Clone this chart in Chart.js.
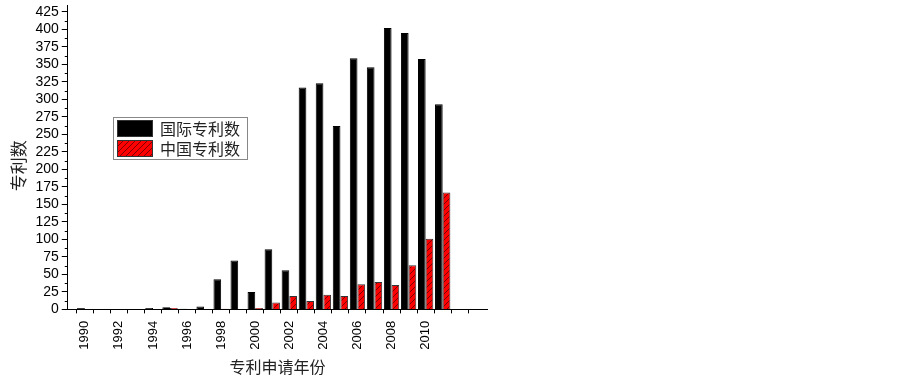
<!DOCTYPE html>
<html>
<head>
<meta charset="utf-8">
<script src="https://cdn.jsdelivr.net/npm/chart.js@4/dist/chart.umd.min.js"></script>
<style>
  html, body { margin: 0; padding: 0; background: #fff; }
  #wrap { width: 903px; height: 380px; }
</style>
</head>
<body>
<div id="wrap"><canvas id="c" width="903" height="380"></canvas></div>
<script>
// ---- data ----
const years = [1990,1991,1992,1993,1994,1995,1996,1997,1998,1999,2000,2001,2002,2003,2004,2005,2006,2007,2008,2009,2010,2011];
const intlPatents = [2,0,0,0,2,3,1,4,43,70,25,86,56,317,323,262,359,346,402,395,358,293];
const chinaPatents = [0,0,0,0,0,2,0,0,1,0,2,10,19,12,21,19,36,39,35,63,101,167];
const seriesLabels = ['国际专利数', '中国专利数'];
const xTitle = '专利申请年份';
const yTitle = '专利数';
const yTickValues = [0,25,50,75,100,125,150,175,200,225,250,275,300,325,350,375,400,425];
const yTickStep = 25;

const CJK = '"Noto Sans CJK SC", "Noto Sans", sans-serif';
const NUM = '"Liberation Sans", Arial, sans-serif';

function hatch() {
  const p = document.createElement('canvas');
  p.width = 6; p.height = 6;
  const g = p.getContext('2d');
  g.fillStyle = '#ff0000';
  g.fillRect(0, 0, 6, 6);
  g.strokeStyle = '#5a0000';
  g.lineWidth = 0.8;
  g.beginPath();
  g.moveTo(0, 6); g.lineTo(6, 0);
  g.moveTo(-1, 1); g.lineTo(1, -1);
  g.moveTo(5, 7); g.lineTo(7, 5);
  g.stroke();
  return document.getElementById('c').getContext('2d').createPattern(p, 'repeat');
}
const redHatch = hatch();

const minorTicks = {
  id: 'minorTicks',
  afterDraw(chart) {
    const ctx = chart.ctx, y = chart.scales.y, x0 = chart.chartArea.left;
    ctx.save();
    ctx.strokeStyle = '#000';
    ctx.lineWidth = 1;
    ctx.beginPath();
    for (let v = yTickStep / 2; v < y.max; v += yTickStep) {
      const py = Math.round(y.getPixelForValue(v)) + 0.5;
      ctx.moveTo(x0 - 3, py); ctx.lineTo(x0, py);
    }
    ctx.stroke();
    ctx.restore();
  }
};

const boxLegend = {
  id: 'boxLegend',
  afterDraw(chart) {
    const ctx = chart.ctx;
    const bx = 113.5, by = 117.5, bw = 134, bh = 42;
    ctx.save();
    ctx.fillStyle = '#fff';
    ctx.fillRect(bx, by, bw, bh);
    ctx.strokeStyle = '#888';
    ctx.lineWidth = 1;
    ctx.strokeRect(bx, by, bw, bh);
    chart.data.datasets.forEach((ds, i) => {
      const sy = 120 + i * 20;
      ctx.fillStyle = ds.backgroundColor;
      ctx.fillRect(117, sy, 36, 17);
      ctx.strokeStyle = '#333';
      ctx.strokeRect(117.5, sy + 0.5, 35, 16);
      ctx.fillStyle = '#222';
      ctx.font = '16px ' + CJK;
      ctx.textBaseline = 'middle';
      ctx.fillText(ds.label, 160, sy + 9);
    });
    ctx.restore();
  }
};

new Chart(document.getElementById('c'), {
  type: 'bar',
  data: {
    datasets: [
      { label: seriesLabels[0], data: years.map((yr, i) => ({ x: yr, y: intlPatents[i] })),
        backgroundColor: '#000', borderColor: '#000', borderWidth: 1 },
      { label: seriesLabels[1], data: years.map((yr, i) => ({ x: yr, y: chinaPatents[i] })),
        backgroundColor: redHatch, borderColor: '#333', borderWidth: 1 }
    ]
  },
  options: {
    responsive: false,
    animation: false,
    layout: { padding: { left: 8, right: 416, top: 5, bottom: 3.5 } },
    datasets: { bar: { categoryPercentage: 0.9, barPercentage: 1.0 } },
    plugins: { legend: { display: false }, tooltip: { enabled: false } },
    scales: {
      x: {
        type: 'linear', min: 1989, max: 2013.6,
        offset: false,
        afterBuildTicks(scale) {
          scale.ticks = scale.ticks.filter(t => Number.isInteger(t.value) && t.value >= 1990);
        },
        afterFit(scale) { scale.paddingLeft = 0; scale.paddingRight = 0; },
        ticks: {
          stepSize: 1, autoSkip: false, minRotation: 90, maxRotation: 90,
          color: '#000', font: { family: NUM, size: 13 }, padding: 7.5,
          callback: v => (v % 2 === 0 && v <= 2010) ? String(v) : ''
        },
        grid: { display: true, drawOnChartArea: false, tickLength: 4, color: '#000' },
        border: { display: true, color: '#000', width: 1 },
        title: { display: true, text: xTitle, color: '#222', font: { family: CJK, size: 16 }, padding: { top: 0, bottom: 0 } }
      },
      y: {
        min: 0, max: 435,
        afterBuildTicks(scale) {
          scale.ticks = yTickValues.map(v => ({ value: v }));
        },
        afterFit(scale) { scale.paddingTop = 0; scale.paddingBottom = 0; },
        ticks: { stepSize: yTickStep, autoSkip: false, color: '#000', font: { family: NUM, size: 14 }, padding: 3 },
        grid: { display: true, drawOnChartArea: false, tickLength: 6, color: '#000' },
        border: { display: true, color: '#000', width: 1 },
        title: { display: true, text: yTitle + '\u3000', color: '#222', font: { family: CJK, size: 17 }, padding: { top: 0, bottom: 4 } }
      }
    }
  },
  plugins: [minorTicks, boxLegend]
});
</script>
</body>
</html>
